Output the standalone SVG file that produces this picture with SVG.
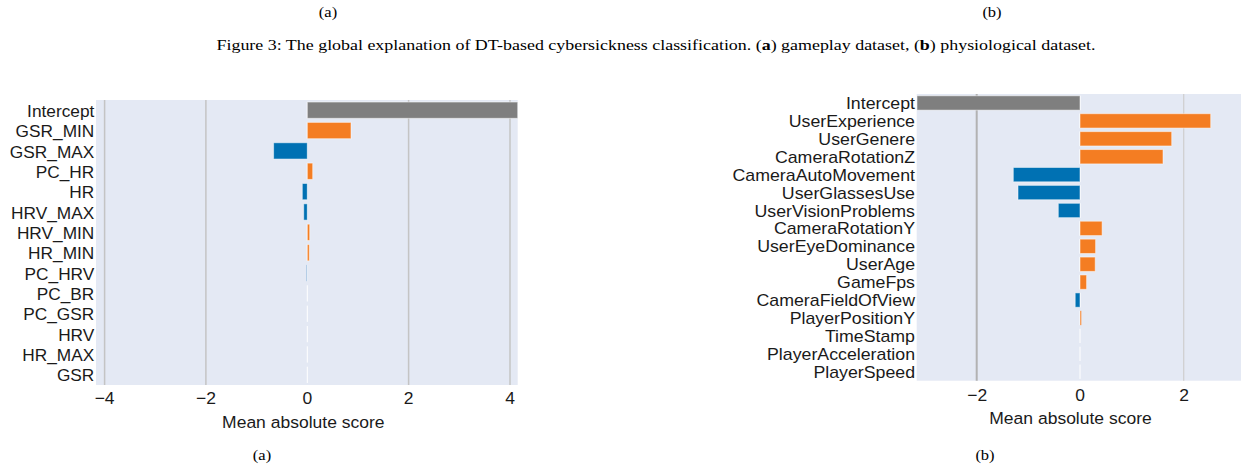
<svg xmlns="http://www.w3.org/2000/svg" width="1241" height="470" viewBox="0 0 1241 470">
<style>
.cap{font-family:"Liberation Serif","Times New Roman",serif;font-size:15px;fill:#000}
.lbl{font-family:"Liberation Sans",Arial,sans-serif;font-size:16px;fill:#1a1a1a;text-anchor:end}
.rlbl{font-family:"Liberation Sans",Arial,sans-serif;font-size:16px;fill:#1a1a1a;text-anchor:end}
.tick{font-family:"Liberation Sans",Arial,sans-serif;font-size:17px;fill:#1a1a1a;text-anchor:middle}
.bg{fill:#e4e9f4}
.grid{stroke:#c4c4c4;stroke-width:1.5}
.gray{fill:#7f7f7f;stroke:#ffffff;stroke-opacity:.5;stroke-width:1}
.org{fill:#f47d22;stroke:#ffffff;stroke-opacity:.5;stroke-width:1}
.blu{fill:#0071b3;stroke:#ffffff;stroke-opacity:.5;stroke-width:1}
.zero{stroke:#ffffff;stroke-width:1}
</style>

<g id="captions">
<text class="cap" text-anchor="middle" transform="translate(328,17) scale(1.1,1)">(a)</text>
<text class="cap" text-anchor="middle" transform="translate(992,17) scale(1.1,1)">(b)</text>
<text class="cap" text-anchor="middle" transform="translate(656,50) scale(1.195,1)">Figure 3: The global explanation of DT-based cybersickness classification. (<tspan font-weight="bold">a</tspan>) gameplay dataset, (<tspan font-weight="bold">b</tspan>) physiological dataset.</text>
<text class="cap" text-anchor="middle" transform="translate(262,460) scale(1.1,1)">(a)</text>
<text class="cap" text-anchor="middle" transform="translate(985,460) scale(1.1,1)">(b)</text>
</g>

<g id="chart-a">
<rect class="bg" x="96" y="100" width="421.7" height="285"/>
<g id="grid-a">
<line class="grid" x1="104.6" y1="100" x2="104.6" y2="385"/>
<line class="grid" x1="205.9" y1="100" x2="205.9" y2="385"/>
<line class="grid" x1="408.6" y1="100" x2="408.6" y2="385"/>
<line class="grid" x1="510" y1="100" x2="510" y2="385"/>
</g>
<g id="zero-a">
<line class="zero" x1="307.3" y1="102.04" x2="307.3" y2="118.33"/>
<line class="zero" x1="307.3" y1="122.40" x2="307.3" y2="138.69"/>
<line class="zero" x1="307.3" y1="142.75" x2="307.3" y2="159.04"/>
<line class="zero" x1="307.3" y1="163.11" x2="307.3" y2="179.40"/>
<line class="zero" x1="307.3" y1="183.47" x2="307.3" y2="199.76"/>
<line class="zero" x1="307.3" y1="203.82" x2="307.3" y2="220.11"/>
<line class="zero" x1="307.3" y1="224.18" x2="307.3" y2="240.47"/>
<line class="zero" x1="307.3" y1="244.54" x2="307.3" y2="260.83"/>
<line class="zero" x1="307.3" y1="264.90" x2="307.3" y2="281.19"/>
<line class="zero" x1="307.3" y1="285.25" x2="307.3" y2="301.54"/>
<line class="zero" x1="307.3" y1="305.61" x2="307.3" y2="321.90"/>
<line class="zero" x1="307.3" y1="325.97" x2="307.3" y2="342.26"/>
<line class="zero" x1="307.3" y1="346.32" x2="307.3" y2="362.61"/>
<line class="zero" x1="307.3" y1="366.68" x2="307.3" y2="382.97"/>
</g>
<g id="bars-a">
<rect id="a-intercept" class="gray" x="307.3" y="102.04" width="210.4" height="16.29"/>
<rect id="a-gsr-min" class="org" x="307.3" y="122.40" width="43.7" height="16.29"/>
<rect id="a-gsr-max" class="blu" x="273.6" y="142.75" width="33.7" height="16.29"/>
<rect id="a-pc-hr" class="org" x="307.3" y="163.11" width="5.4" height="16.29"/>
<rect id="a-hr" class="blu" x="302.3" y="183.47" width="5" height="16.29"/>
<rect id="a-hrv-max" class="blu" x="303.7" y="203.82" width="3.6" height="16.29"/>
<rect id="a-hrv-min" class="org" x="307.3" y="224.18" width="2.4" height="16.29"/>
<rect id="a-hr-min" class="org" x="307.3" y="244.54" width="2" height="16.29"/>
<rect id="a-pc-hrv" x="306" y="264.90" width="1.3" height="16.29" fill="#b5cde6"/>
</g>
<g id="labels-a">
<text class="lbl" transform="translate(94.3,116.8) scale(1.08,1)">Intercept</text>
<text class="lbl" transform="translate(94.3,137.1) scale(1.08,1)">GSR_MIN</text>
<text class="lbl" transform="translate(94.3,157.5) scale(1.08,1)">GSR_MAX</text>
<text class="lbl" transform="translate(94.3,177.9) scale(1.08,1)">PC_HR</text>
<text class="lbl" transform="translate(94.3,198.2) scale(1.08,1)">HR</text>
<text class="lbl" transform="translate(94.3,218.6) scale(1.08,1)">HRV_MAX</text>
<text class="lbl" transform="translate(94.3,238.9) scale(1.08,1)">HRV_MIN</text>
<text class="lbl" transform="translate(94.3,259.3) scale(1.08,1)">HR_MIN</text>
<text class="lbl" transform="translate(94.3,279.6) scale(1.08,1)">PC_HRV</text>
<text class="lbl" transform="translate(94.3,300.0) scale(1.08,1)">PC_BR</text>
<text class="lbl" transform="translate(94.3,320.4) scale(1.08,1)">PC_GSR</text>
<text class="lbl" transform="translate(94.3,340.7) scale(1.08,1)">HRV</text>
<text class="lbl" transform="translate(94.3,361.1) scale(1.08,1)">HR_MAX</text>
<text class="lbl" transform="translate(94.3,381.4) scale(1.08,1)">GSR</text>
</g>
<g id="axis-a">
<text class="tick" transform="translate(104.6,404.3) scale(1.03,1)">−4</text>
<text class="tick" transform="translate(205.9,404.3) scale(1.03,1)">−2</text>
<text class="tick" transform="translate(307.3,404.3) scale(1.03,1)">0</text>
<text class="tick" transform="translate(408.6,404.3) scale(1.03,1)">2</text>
<text class="tick" transform="translate(510,404.3) scale(1.03,1)">4</text>
<text class="tick" transform="translate(303.3,428.3) scale(1.03,1)">Mean absolute score</text>
</g>
</g>

<g id="chart-b">
<rect class="bg" x="916.7" y="94" width="324.3" height="286.7"/>
<g id="grid-b">
<line x1="976.7" y1="94" x2="976.7" y2="380.7" stroke="#b2b2b2" stroke-width="2"/>
<line x1="1183.7" y1="94" x2="1183.7" y2="380.7" stroke="#d0d0d0" stroke-width="1.3"/>
</g>
<g id="zero-b">
<line class="zero" x1="1080" y1="95.79" x2="1080" y2="110.13"/>
<line class="zero" x1="1080" y1="113.71" x2="1080" y2="128.05"/>
<line class="zero" x1="1080" y1="131.63" x2="1080" y2="145.97"/>
<line class="zero" x1="1080" y1="149.55" x2="1080" y2="163.89"/>
<line class="zero" x1="1080" y1="167.47" x2="1080" y2="181.81"/>
<line class="zero" x1="1080" y1="185.39" x2="1080" y2="199.73"/>
<line class="zero" x1="1080" y1="203.30" x2="1080" y2="217.64"/>
<line class="zero" x1="1080" y1="221.22" x2="1080" y2="235.56"/>
<line class="zero" x1="1080" y1="239.14" x2="1080" y2="253.48"/>
<line class="zero" x1="1080" y1="257.06" x2="1080" y2="271.40"/>
<line class="zero" x1="1080" y1="274.98" x2="1080" y2="289.32"/>
<line class="zero" x1="1080" y1="292.90" x2="1080" y2="307.24"/>
<line class="zero" x1="1080" y1="310.82" x2="1080" y2="325.16"/>
<line class="zero" x1="1080" y1="328.74" x2="1080" y2="343.08"/>
<line class="zero" x1="1080" y1="346.66" x2="1080" y2="361.00"/>
<line class="zero" x1="1080" y1="364.57" x2="1080" y2="378.91"/>
</g>
<g id="bars-b">
<rect id="b-intercept" class="gray" x="917" y="95.79" width="163" height="14.34"/>
<rect id="b-userexperience" class="org" x="1080" y="113.71" width="130.7" height="14.34"/>
<rect id="b-usergenere" class="org" x="1080" y="131.63" width="91.7" height="14.34"/>
<rect id="b-camerarotationz" class="org" x="1080" y="149.55" width="83" height="14.34"/>
<rect id="b-cameraautomovement" class="blu" x="1013.3" y="167.47" width="66.7" height="14.34"/>
<rect id="b-userglassesuse" class="blu" x="1018" y="185.39" width="62" height="14.34"/>
<rect id="b-uservisionproblems" class="blu" x="1058.3" y="203.30" width="21.7" height="14.34"/>
<rect id="b-camerarotationy" class="org" x="1080" y="221.22" width="22.1" height="14.34"/>
<rect id="b-usereyedominance" class="org" x="1080" y="239.14" width="15.6" height="14.34"/>
<rect id="b-userage" class="org" x="1080" y="257.06" width="15.2" height="14.34"/>
<rect id="b-gamefps" class="org" x="1080" y="274.98" width="6.6" height="14.34"/>
<rect id="b-camerafieldofview" class="blu" x="1075.2" y="292.90" width="4.8" height="14.34"/>
<rect id="b-playerpositiony" x="1080" y="310.82" width="1.4" height="14.34" fill="#f7a160"/>
</g>
<g id="labels-b">
<text class="rlbl" transform="translate(915,109.0) scale(1.11,1)">Intercept</text>
<text class="rlbl" transform="translate(915,126.9) scale(1.11,1)">UserExperience</text>
<text class="rlbl" transform="translate(915,144.8) scale(1.11,1)">UserGenere</text>
<text class="rlbl" transform="translate(915,162.7) scale(1.11,1)">CameraRotationZ</text>
<text class="rlbl" transform="translate(915,180.6) scale(1.11,1)">CameraAutoMovement</text>
<text class="rlbl" transform="translate(915,198.6) scale(1.11,1)">UserGlassesUse</text>
<text class="rlbl" transform="translate(915,216.5) scale(1.11,1)">UserVisionProblems</text>
<text class="rlbl" transform="translate(915,234.4) scale(1.11,1)">CameraRotationY</text>
<text class="rlbl" transform="translate(915,252.3) scale(1.11,1)">UserEyeDominance</text>
<text class="rlbl" transform="translate(915,270.2) scale(1.11,1)">UserAge</text>
<text class="rlbl" transform="translate(915,288.2) scale(1.11,1)">GameFps</text>
<text class="rlbl" transform="translate(915,306.1) scale(1.11,1)">CameraFieldOfView</text>
<text class="rlbl" transform="translate(915,324.0) scale(1.11,1)">PlayerPositionY</text>
<text class="rlbl" transform="translate(915,341.9) scale(1.11,1)">TimeStamp</text>
<text class="rlbl" transform="translate(915,359.8) scale(1.11,1)">PlayerAcceleration</text>
<text class="rlbl" transform="translate(915,377.7) scale(1.11,1)">PlayerSpeed</text>
</g>
<g id="axis-b">
<text class="tick" transform="translate(977.3,400.7) scale(1.03,1)">−2</text>
<text class="tick" transform="translate(1080,400.7) scale(1.03,1)">0</text>
<text class="tick" transform="translate(1184,400.7) scale(1.03,1)">2</text>
<text class="tick" transform="translate(1070.5,424.3) scale(1.03,1)">Mean absolute score</text>
</g>
</g>
</svg>
